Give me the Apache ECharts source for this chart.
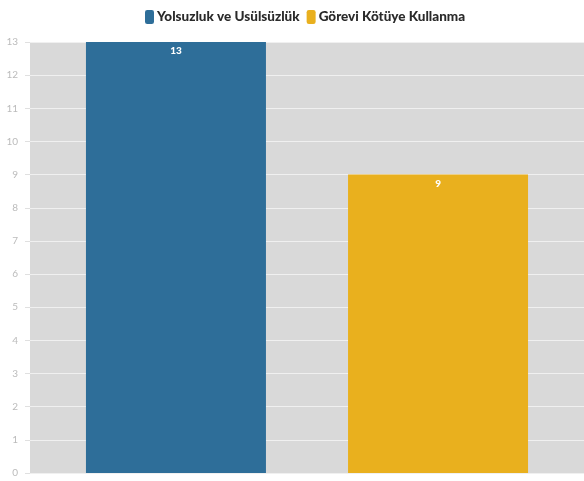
<!DOCTYPE html>
<html>
<head>
<meta charset="utf-8">
<script src="https://cdn.jsdelivr.net/npm/echarts@6/dist/echarts.min.js"></script>
<style>
  html, body { margin: 0; padding: 0; background: #fff; }
  #chart { width: 584px; height: 481px; }
</style>
</head>
<body>
<div id="chart"></div>
<script>
const categories = [''];
const seriesNames = ['Yolsuzluk ve Usülsüzlük', 'Görevi Kötüye Kullanma'];
const seriesValues = [[13], [9]];
const seriesColors = ['#2e6e99', '#e9b01e'];

const chart = echarts.init(document.getElementById('chart'));

const series = seriesNames.map(function (name, i) {
  return {
    name: name,
    type: 'bar',
    data: seriesValues[i],
    barWidth: 180,
    barGap: '45.6%',
    itemStyle: { color: seriesColors[i] },
    label: {
      show: true,
      position: 'insideTop',
      distance: 4,
      color: '#fff',
      fontFamily: 'Lato',
      fontWeight: 900,
      fontSize: 10
    }
  };
});

chart.setOption({
  animation: false,
  legend: {
    top: 5,
    left: 140,
    itemWidth: 9,
    itemHeight: 14,
    itemGap: 7,
    icon: 'roundRect',
    textStyle: { fontFamily: 'Lato', fontWeight: 900, fontSize: 13.5, color: '#2a2a2a', padding: [0, 0, 0, -2] }
  },
  grid: { left: 30, right: 0, top: 42, bottom: 8, backgroundColor: '#d9d9d9', show: true, borderWidth: 0 },
  xAxis: {
    type: 'category',
    data: categories,
    axisLine: { show: false },
    axisTick: { show: false },
    axisLabel: { show: false }
  },
  yAxis: {
    type: 'value',
    min: 0,
    max: 13,
    interval: 1,
    axisLine: { show: false },
    axisTick: { show: true, length: 5, lineStyle: { color: '#e0e0e0' } },
    axisLabel: { color: '#bbb', fontFamily: 'Lato', fontSize: 10, margin: 12 },
    splitLine: { lineStyle: { color: '#f0f0f0', width: 1 } }
  },
  series: series
});
</script>
</body>
</html>
